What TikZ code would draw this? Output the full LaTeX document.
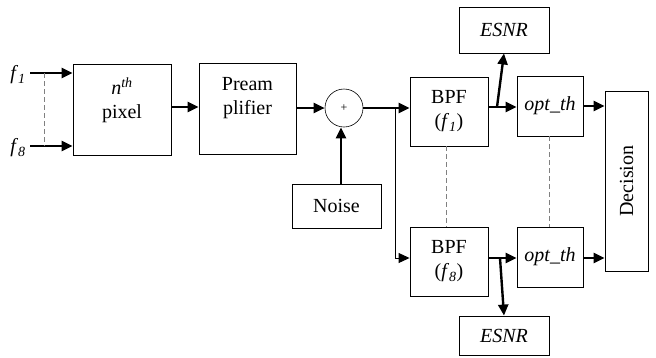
\documentclass[tikz,border=0pt]{standalone}
\usepackage{fontspec}
\setmainfont{Liberation Serif}
\usetikzlibrary{arrows.meta}
\begin{document}
\begin{tikzpicture}[x=1pt,y=-1pt,
  box/.style={draw, line width=0.9pt, inner sep=0pt, font=\fontsize{20}{24}\selectfont, align=center},
  thk/.style={line width=2.4pt, -{Triangle[length=11pt,width=10pt]}},
  thn/.style={line width=1pt, -{Triangle[length=11pt,width=10pt]}},
  dsh/.style={gray, line width=0.8pt, dash pattern=on 5pt off 3pt},
  lbl/.style={font=\fontsize{20}{24}\selectfont, inner sep=0pt}]
\useasboundingbox (0,0) rectangle (656,357);
% nodes
\node[box, minimum width=98pt, minimum height=91pt, label={[lbl,align=center,yshift=9pt]center:{\textit{n}\textsuperscript{\textit{th}}\\pixel}}] (pix) at (122,109.5) {};
\node[box, minimum width=97pt, minimum height=91pt, label={[lbl,align=center,yshift=10pt]center:{Pream\\plifier}}] (pre) at (247.5,108.5) {};
\node[draw, circle, line width=0.6pt, minimum size=38pt, inner sep=0pt, font=\fontsize{12}{14}\selectfont] (sum) at (344,108) {+};
\node[box, minimum width=89pt, minimum height=44pt] (noise) at (336.5,206) {Noise};
\node[box, minimum width=78pt, minimum height=69pt] (bpf1) at (449,111.5) {BPF\\(\textit{f}\textsubscript{\textit{1}})};
\node[box, minimum width=78pt, minimum height=69pt] (bpf8) at (449,261.5) {BPF\\(\textit{f}\textsubscript{\textit{8}})};
\node[box, minimum width=90pt, minimum height=46pt] (es1) at (504,30) {\textit{ESNR}};
\node[box, minimum width=90pt, minimum height=39pt] (es8) at (504,335.5) {\textit{ESNR}};
\node[box, minimum width=66pt, minimum height=60pt] (op1) at (550,106) {\textit{opt\_th}};
\node[box, minimum width=66pt, minimum height=60pt] (op8) at (550,257) {\textit{opt\_th}};
\node[box, minimum width=43pt, minimum height=180pt] (dec) at (626.5,181) {};
\node[lbl, rotate=90] (dect) at (dec.center) {Decision};
\node[lbl] (f1) at (18,75) {\textit{f}\textsubscript{\textit{1}}};
\node[lbl] (f8) at (18,148) {\textit{f}\textsubscript{\textit{8}}};
% coordinates
\coordinate (f1e) at (30,73);
\coordinate (f8e) at (30,146);
\coordinate (br) at (395,108);
\coordinate (br8) at (395,258);
\coordinate (t1) at (497,107);
\coordinate (t8) at (500,258);
% connectors
\draw[thk] (f1e) -- (pix.west |- f1e);
\draw[thk] (f8e) -- (pix.west |- f8e);
\draw[dsh] (44,73) -- (44,146);
\draw[thk] (pix.east |- 0,107) -- (pre.west |- 0,107);
\draw[thk] (pre.east |- sum.west) -- (sum.west);
\draw[thk] (noise.north -| 341,0) -- (sum.south -| 341,0);
\draw[thk] (sum.east) -- (bpf1.west |- sum.east);
\draw[line width=1pt] (br) -- (br8);
\draw[thn] (br8) -- (bpf8.west |- br8);
\draw[thk] (bpf1.east |- t1) -- (op1.west |- t1);
\draw[thk] (t1) -- (es1.south);
\draw[thk] (bpf8.east |- t8) -- (op8.west |- t8);
\draw[thk] (t8) -- (es8.north);
\draw[thk] (op1.east |- 0,106) -- (dec.west |- 0,106);
\draw[thk] (op8.east |- 0,258) -- (dec.west |- 0,258);
\draw[dsh] (bpf1.south -| 446,0) -- (bpf8.north -| 446,0);
\draw[dsh] (op1.south -| 549,0) -- (op8.north -| 549,0);
\end{tikzpicture}
\end{document}
